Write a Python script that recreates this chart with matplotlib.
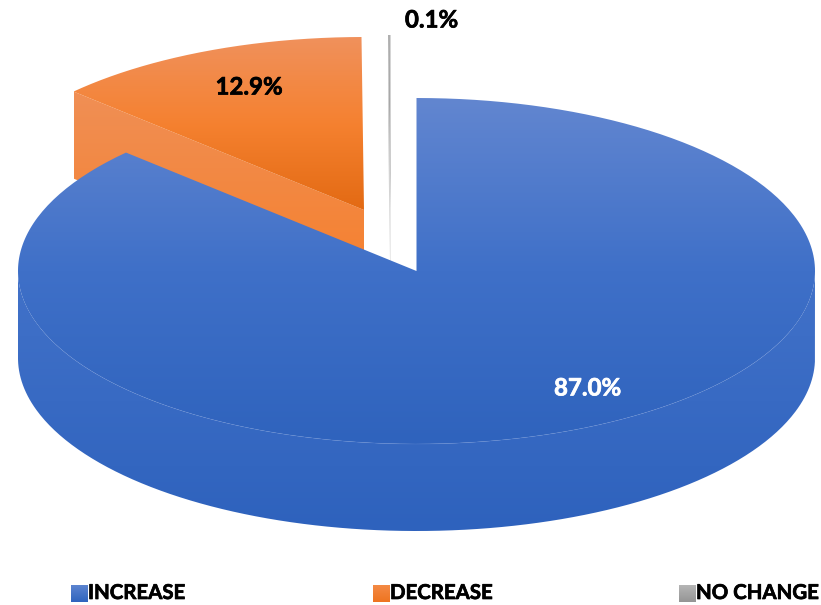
import matplotlib
matplotlib.use("Agg")
import matplotlib.pyplot as plt
import matplotlib.patheffects as pe
import numpy as np
from matplotlib.colors import LinearSegmentedColormap
from matplotlib.patches import PathPatch
from matplotlib.path import Path

#---------------- data ------------
categories = ["INCREASE", "DECREASE", "NO CHANGE"]
porcentajes = [87.0, 12.9, 0.1]
etiquetas = ["87.0%", "12.9%", "0.1%"]

#---------------- geometry (pixels of the picture) ------------
RX, RY, DEPTH = 398.5, 173, 87
centros = [(416.5, 271), (364, 210), (390.5, 208)]
label_pos = [(587.5, 388), (249, 87), (431.5, 20)]
label_col = ["white", "black", "black"]
legend_x = [71, 373, 679]
FONT = "Lato"

top_cols = [["#6286d0", "#3f70c8", "#2f63bd"],
            ["#f0915c", "#f58130", "#e36a13"],
            ["#b0b0b0", "#a5a5a5", "#8f8f8f"]]
side_cols = [["#4272c9", "#2e62bd"],
             ["#f08f55", "#f67f2a"],
             ["#d0d0d0", "#d8d8d8"]]
swatch_cols = [["#5c84d0", "#2f64be"], ["#f48a45", "#ee7420"], ["#b5b5b5", "#959595"]]


def punto(c, ang):
    a = np.radians(ang)
    return c[0] + RX * np.cos(a), c[1] - RY * np.sin(a)


def arco(c, a0, a1):
    t = np.linspace(a0, a1, 300)
    x, y = punto(c, t)
    return list(zip(x, y))


def pintar(ax, verts, colores, zorder):
    # vertical gradient clipped to a polygon
    verts = np.array(verts)
    y0, y1 = verts[:, 1].min(), verts[:, 1].max()
    x0, x1 = verts[:, 0].min(), verts[:, 0].max()
    cmap = LinearSegmentedColormap.from_list("g", colores)
    grad = np.linspace(0, 1, 256).reshape(-1, 1)
    im = ax.imshow(grad, cmap=cmap, extent=[x0, x1, y1, y0], aspect="auto",
                   interpolation="bilinear", zorder=zorder)
    patch = PathPatch(Path(np.vstack([verts, verts[0]])), fc="none", ec="none", transform=ax.transData)
    ax.add_patch(patch)
    im.set_clip_path(patch)


fig = plt.figure(figsize=(8.21, 6.05), dpi=100)
ax = fig.add_axes([0, 0, 1, 1])
ax.axis("off")

# angles from the values, clockwise from 12 o'clock
fin = 90 - np.cumsum(porcentajes) * 3.6
ini = np.concatenate([[90], fin[:-1]])

# detached slices first, the big one covers them
for i in [1, 2]:
    c = centros[i]
    a_izq = ini[i] % 360
    a_der = fin[i] % 360
    a_izq, a_der = max(a_izq, a_der), min(a_izq, a_der)
    esquina = punto(c, a_izq)
    cara = [esquina, c, (c[0], c[1] + DEPTH), (esquina[0], esquina[1] + DEPTH)]
    pintar(ax, cara, side_cols[i], 1 + i)
    pintar(ax, [c] + arco(c, a_izq, a_der), top_cols[i], 1.5 + i)

# main slice: wall then top
c = centros[0]
pared = arco(c, 180, 360) + [(x, y + DEPTH) for x, y in arco(c, 360, 180)]
pintar(ax, pared, side_cols[0], 5)
pintar(ax, [c] + arco(c, 90, -(360 - (fin[0] % 360))), top_cols[0], 6)
xs, ys = punto(c, np.linspace(200, 340, 200))
ax.plot(xs, ys, color="#6f93da", lw=0.5, alpha=0.35, zorder=7)

for lab, pos, col in zip(etiquetas, label_pos, label_col):
    ax.text(pos[0], pos[1], lab, color=col, family=FONT, weight="bold", fontsize=17.3,
            ha="center", va="center", zorder=10,
            path_effects=[pe.withStroke(linewidth=0.5, foreground=col)])

for nombre, x, cols in zip(categories, legend_x, swatch_cols):
    pintar(ax, [(x, 585), (x + 17, 585), (x + 17, 602), (x, 602)], cols, 8)
    ax.text(x + 17, 593, nombre, family=FONT, weight="bold", fontsize=14.7,
            ha="left", va="center", color="black", zorder=10,
            path_effects=[pe.withStroke(linewidth=0.5, foreground="black")])

ax.set_xlim(0, 821)
ax.set_ylim(605, 0)
fig.savefig("out.png", dpi=100)
